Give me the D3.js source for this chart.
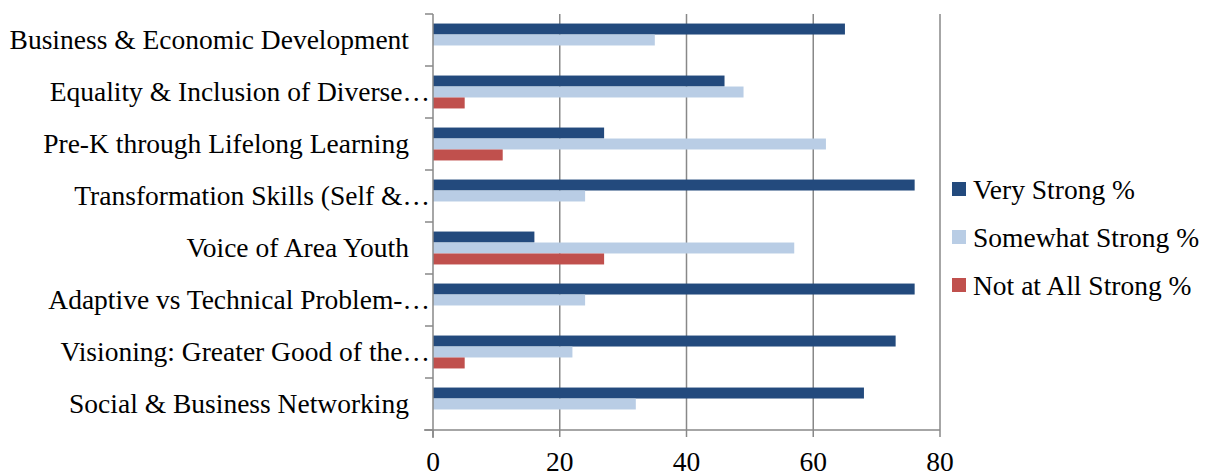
<!DOCTYPE html>
<html lang="en">
  <head>
    <meta charset="utf-8">
    <script src="https://d3js.org/d3.v7.min.js"></script>
    <style>
      body { margin: 0; background: #fff; }
      text { font-family: "Liberation Serif", serif; fill: #000; }
    </style>
  </head>
  <body>
    <div id="chart">
      <svg width="1205" height="474"></svg>
    </div>
    <script type="text/javascript">
      // Data
      var categories = ["Business & Economic Development", "Equality & Inclusion of Diverse\u2026",
        "Pre-K through Lifelong Learning", "Transformation Skills (Self &\u2026",
        "Voice of Area Youth", "Adaptive vs Technical Problem-\u2026",
        "Visioning: Greater Good of the\u2026", "Social & Business Networking"];
      var seriesNames = ["Very Strong %", "Somewhat Strong %", "Not at All Strong %"];
      var veryStrong = [65, 46, 27, 76, 16, 76, 73, 68];
      var somewhatStrong = [35, 49, 62, 24, 57, 24, 22, 32];
      var notAtAll = [0, 5, 11, 0, 27, 0, 5, 0];
      var xTicks = [0, 20, 40, 60, 80];
      var colors = ["#234A7D", "#B9CDE5", "#C0504D"];

      var svg = d3.select("svg");
      var margin = {top: 14, left: 433, right: 265, bottom: 44};
      var innerWidth = 940 - margin.left;
      var innerHeight = 430 - margin.top;

      var xScale = d3.scaleLinear().domain([0, 80]).range([0, innerWidth]);
      var yScale = d3.scaleBand().domain(categories).range([0, innerHeight]);
      var inner = d3.scaleBand().domain(seriesNames)
        .range([0, yScale.bandwidth()]).paddingOuter(0.87);

      var g = svg.append("g")
        .attr("transform", `translate(${margin.left},${margin.top})`);

      // gridlines
      g.selectAll(".grid").data(xTicks.slice(1)).enter().append("line")
        .attr("x1", d => xScale(d)).attr("x2", d => xScale(d))
        .attr("y1", 0).attr("y2", innerHeight)
        .attr("stroke", "#888").attr("stroke-width", 1.5);

      // bars
      var series = [veryStrong, somewhatStrong, notAtAll];
      series.forEach(function(vals, s) {
        g.selectAll(".bar" + s).data(vals).enter().append("rect")
          .attr("x", 0)
          .attr("y", (d, i) => yScale(categories[i]) + inner(seriesNames[s]))
          .attr("width", d => xScale(d))
          .attr("height", inner.bandwidth())
          .attr("fill", colors[s]);
      });

      // left axis
      g.append("line").attr("x1", 0).attr("x2", 0).attr("y1", 0).attr("y2", innerHeight + 8)
        .attr("stroke", "#888").attr("stroke-width", 1.5);
      var yEdges = categories.map(c => yScale(c)).concat([innerHeight]);
      g.selectAll(".ytick").data(yEdges).enter().append("line")
        .attr("x1", -8).attr("x2", 0).attr("y1", d => d).attr("y2", d => d)
        .attr("stroke", "#888").attr("stroke-width", 1.5);

      // bottom axis
      g.append("line").attr("x1", -9).attr("x2", innerWidth).attr("y1", innerHeight).attr("y2", innerHeight)
        .attr("stroke", "#888").attr("stroke-width", 1.5);
      g.selectAll(".xtick").data(xTicks).enter().append("line")
        .attr("x1", d => xScale(d)).attr("x2", d => xScale(d))
        .attr("y1", innerHeight).attr("y2", innerHeight + 7)
        .attr("stroke", "#888").attr("stroke-width", 1.5);
      g.selectAll(".xlabel").data(xTicks).enter().append("text")
        .attr("x", d => xScale(d)).attr("y", innerHeight + 41)
        .attr("text-anchor", "middle").style("font-size", "27.5px")
        .text(d => d);

      // category labels
      g.selectAll(".clabel").data(categories).enter().append("text")
        .attr("x", d => d.endsWith("\u2026") ? -3 : -24)
        .attr("y", d => yScale(d) + yScale.bandwidth() / 2 + 9)
        .attr("text-anchor", "end").style("font-size", "27.5px")
        .text(d => d);

      // legend
      var legend = svg.append("g").attr("transform", "translate(952,182)");
      seriesNames.forEach(function(name, i) {
        legend.append("rect").attr("x", 0).attr("y", i * 48)
          .attr("width", 14).attr("height", 14).attr("fill", colors[i]);
        legend.append("text").attr("x", 21).attr("y", i * 48 + 17)
          .style("font-size", "27.5px").text(name);
      });
    </script>
  </body>
</html>
